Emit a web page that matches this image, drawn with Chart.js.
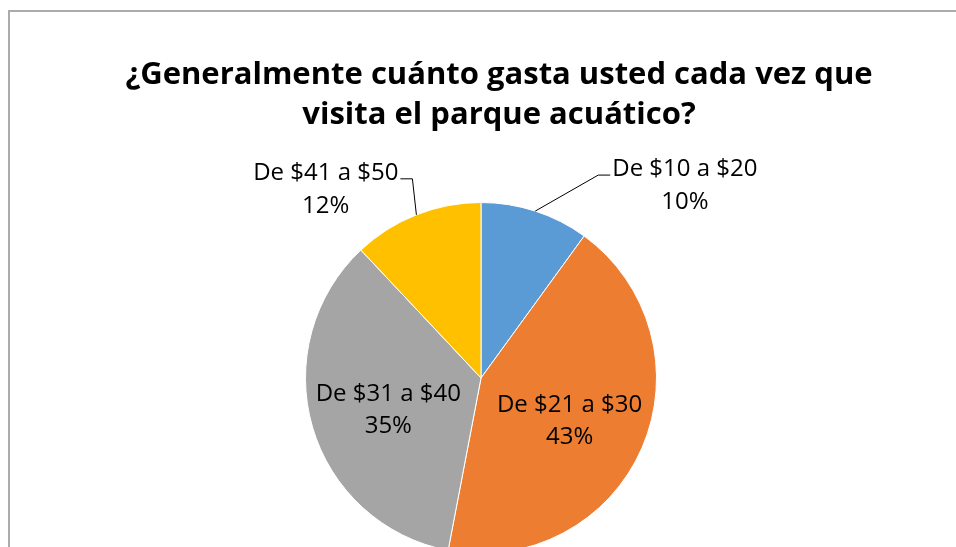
<!DOCTYPE html>
<html>
<head>
<meta charset="utf-8">
<script src="https://cdn.jsdelivr.net/npm/chart.js@4"></script>
<style>
  html, body { margin: 0; padding: 0; background: #fff; overflow: hidden; }
  #wrap { position: relative; width: 956px; height: 547px; overflow: hidden; }
  #frame { position: absolute; left: 8px; top: 10px; width: 960px; height: 560px;
           border-left: 2px solid #ababab; border-top: 2px solid #ababab; }
  #holder { position: absolute; left: 0; top: 0; width: 956px; height: 600px; }
</style>
</head>
<body>
<div id="wrap">
  <div id="frame"></div>
  <div id="holder"><canvas id="grafico_pie"></canvas></div>
</div>
<script>
var categorias = ["De $10 a $20", "De $21 a $30", "De $31 a $40", "De $41 a $50"];
var porcentajes = [10, 43, 35, 12];
var colores = ["#5B9BD5", "#ED7D31", "#A5A5A5", "#FFC000"];
var titulo = ["¿Generalmente cuánto gasta usted cada vez que", "visita el parque acuático?"];

var fuente = "'Open Sans', Lato, sans-serif";

// el titulo en Excel queda un poco a la derecha del centro del pie
var moverTitulo = {
  id: 'moverTitulo',
  afterLayout: function(chart) {
    var t = chart.titleBlock;
    if (t) { t.left += 18; t.right += 18; }
  }
};

// etiquetas tipo Excel: dentro o fuera con linea guia
var etiquetas = {
  id: 'etiquetas',
  afterDatasetsDraw: function(chart) {
    var ctx = chart.ctx;
    var meta = chart.getDatasetMeta(0);
    ctx.save();
    ctx.font = "24px " + fuente;
    ctx.fillStyle = "#000";
    ctx.textBaseline = "middle";
    meta.data.forEach(function(arc, i) {
      var p = arc.getProps(['x', 'y', 'startAngle', 'endAngle', 'outerRadius'], true);
      var mid = (p.startAngle + p.endAngle) / 2;
      var texto1 = categorias[i];
      var texto2 = porcentajes[i] + "%";
      if (i == 1 || i == 2) {
        var r = p.outerRadius * 0.55;
        var cx = p.x + Math.cos(mid) * r;
        var cy = p.y + Math.sin(mid) * r;
        ctx.textAlign = "center";
        ctx.fillText(texto1, cx, cy - 11);
        ctx.fillText(texto2, cx, cy + 21);
      } else {
        var ex = p.x + Math.cos(mid) * p.outerRadius;
        var ey = p.y + Math.sin(mid) * p.outerRadius;
        var lado = Math.cos(mid) >= 0 ? 1 : -1;
        var codoX = i == 0 ? ex + 63 : ex - 4;
        var codoY = ey - 36;
        var finX = codoX + lado * 12;
        ctx.strokeStyle = "#000";
        ctx.lineWidth = 1;
        ctx.beginPath();
        ctx.moveTo(ex, ey);
        ctx.lineTo(codoX, codoY);
        ctx.lineTo(finX, codoY);
        ctx.stroke();
        ctx.textAlign = lado > 0 ? "left" : "right";
        var tx = finX + lado * 2;
        ctx.fillText(texto1, tx, codoY - 6);
        var w = ctx.measureText(texto1).width;
        ctx.textAlign = "center";
        ctx.fillText(texto2, tx + lado * w / 2, codoY + 27);
      }
    });
    ctx.restore();
  }
};

new Chart(document.getElementById("grafico_pie"), {
  type: 'pie',
  data: {
    labels: categorias,
    datasets: [{
      data: porcentajes,
      backgroundColor: colores,
      borderColor: "#ffffff",
      borderWidth: 1
    }]
  },
  options: {
    responsive: true,
    maintainAspectRatio: false,
    animation: false,
    layout: { padding: { left: 6, right: 0, top: 0, bottom: 46 } },
    plugins: {
      legend: { display: false },
      tooltip: { enabled: false },
      title: {
        display: true,
        text: titulo,
        color: "#000",
        font: { family: fuente, size: 31, weight: "bold", lineHeight: "40px" },
        padding: { top: 55, bottom: 67 }
      }
    }
  },
  plugins: [moverTitulo, etiquetas]
});
</script>
</body>
</html>
